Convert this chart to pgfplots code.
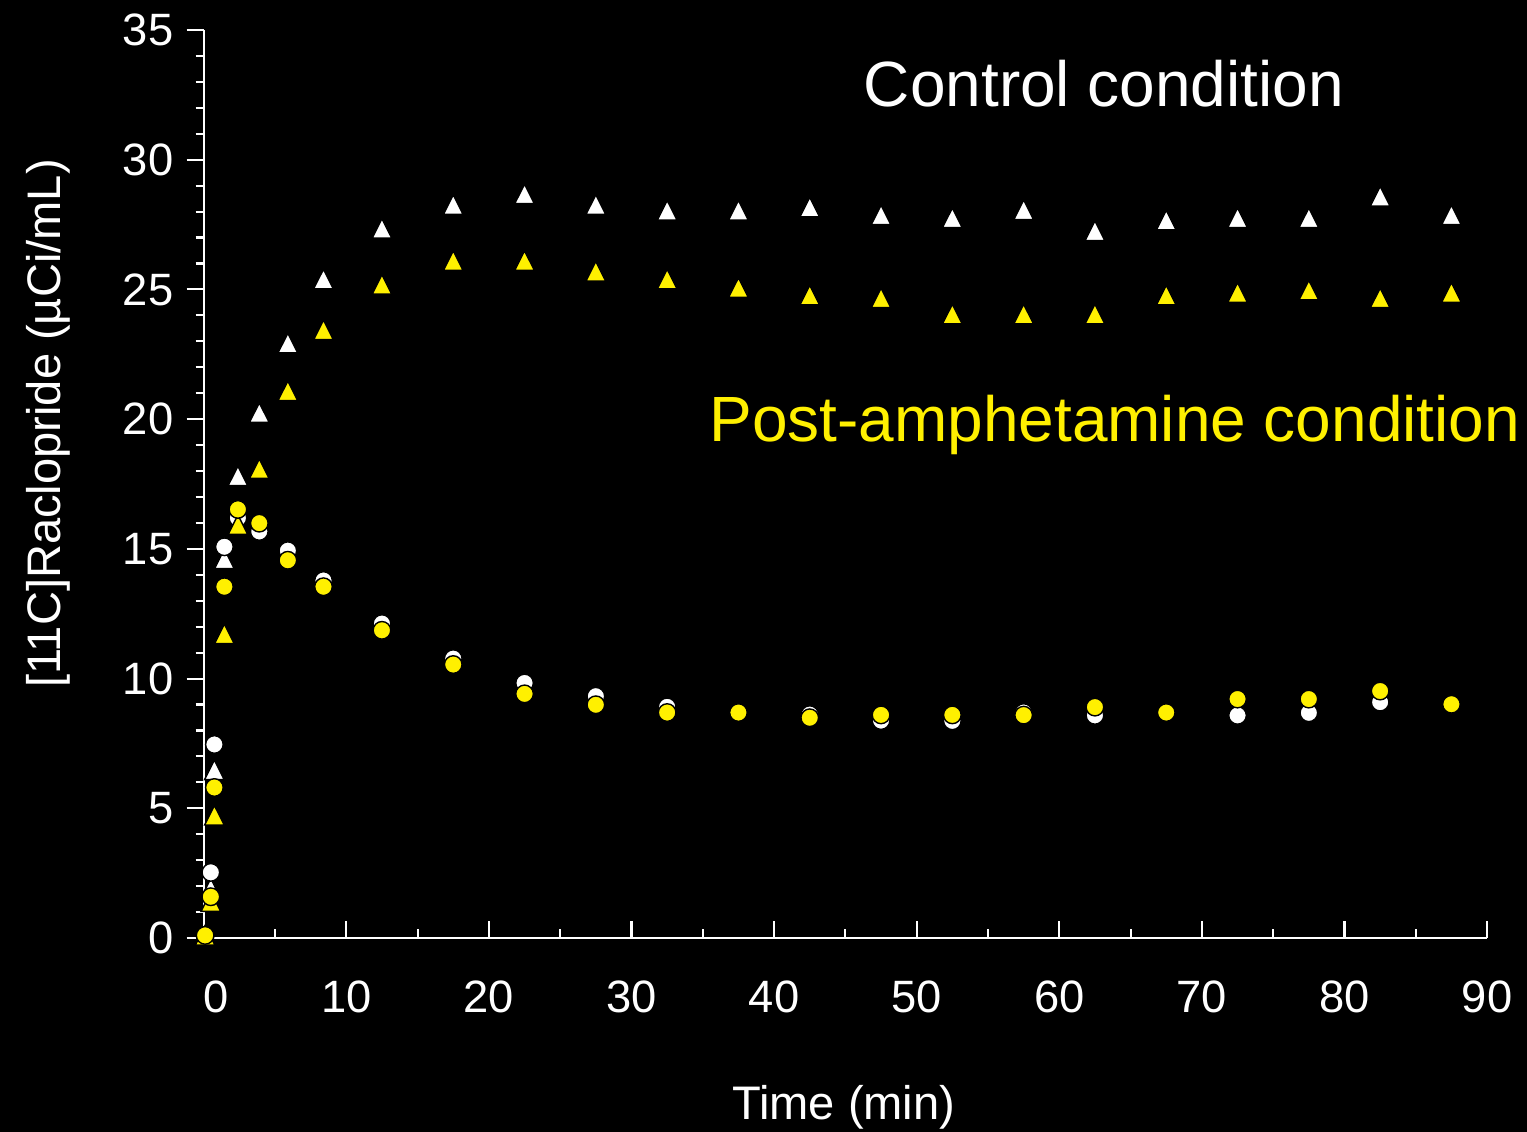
\documentclass[border=0pt]{standalone}
\usepackage{fontspec}
\setmainfont{Liberation Sans}
\usepackage{pgfplots}
\usepackage{pgfplotstable}
\pgfplotsset{compat=1.18}
\definecolor{ayellow}{RGB}{255,240,0}

\pgfplotstableread{
t     ctrlC  postC  ctrlT  postT
0.1   0.10   0.10   0.10   0.10
0.5   2.53   1.59   1.92   1.40
0.75  7.46   5.80   6.48   4.73
1.45  15.08  13.54  14.61  11.72
2.4   16.19  16.52  17.81  15.93
3.9   15.67  15.99  20.25  18.09
5.9   14.93  14.56  22.93  21.09
8.4   13.78  13.54  25.40  23.44
12.5  12.12  11.86  27.35  25.19
17.5  10.77  10.54  28.27  26.11
22.5  9.83   9.41   28.68  26.11
27.5  9.32   8.99   28.27  25.70
32.5  8.91   8.69   28.05  25.40
37.5  8.69   8.69   28.05  25.07
42.5  8.61   8.49   28.17  24.78
47.5  8.38   8.60   27.87  24.67
52.5  8.37   8.60   27.76  24.05
57.5  8.69   8.59   28.07  24.05
62.5  8.58   8.90   27.26  24.05
67.5  8.69   8.69   27.67  24.78
72.5  8.58   9.21   27.76  24.88
77.5  8.68   9.21   27.76  24.97
82.5  9.09   9.52   28.59  24.67
87.5  9.00   9.01   27.87  24.88
}\datatable

\begin{document}
\begin{tikzpicture}
\fill[black] (-20.37mm,-19.4mm) rectangle (132.33mm,93.8mm);
\pgfplotsset{common/.style={
  at={(0,0)}, anchor=south west, scale only axis,
  width=128.34mm, height=90.8mm,
  xmin=0, xmax=90, ymin=0, ymax=35, clip=false,
  axis line style={white, line width=0.6pt},
  every tick/.style={white, line width=0.6pt},
  tick label style={white, font=\fontsize{12.9}{15}\selectfont},
}}
\begin{axis}[common, axis x line*=bottom, hide y axis,
  xtick={0,10,...,90},
  xticklabels={\hphantom{0}0,10,20,30,40,50,60,70,80,90},
  minor x tick num=1, tick align=inside,
  major tick length=1.7mm, minor tick length=0.9mm,
  xticklabel style={anchor=base, yshift=-7.5mm, inner sep=0pt}]
\addplot[draw=none] coordinates {(0,0)};
\end{axis}
\begin{axis}[common, axis y line*=left, hide x axis,
  ytick={0,5,...,35},
  yticklabels={0,5,10,15,20,25,30,35},
  minor y tick num=4, tick align=outside,
  major tick length=1.7mm, minor tick length=0.8mm,
  yticklabel style={anchor=east, inner sep=0pt, xshift=-1.27mm}]
\addplot[only marks, mark=triangle*, mark size=1.3mm,
  mark options={draw=none, fill=white, yshift=-0.32mm, xscale=0.87}]
  table[x=t, y=ctrlT]{\datatable};
\addplot[only marks, mark=*, mark size=0.88mm,
  mark options={draw=none, fill=white}]
  table[x=t, y=ctrlC]{\datatable};
\addplot[only marks, mark=triangle*, mark size=1.3mm,
  mark options={draw=none, fill=ayellow, yshift=-0.32mm, xscale=0.87}]
  table[x=t, y=postT]{\datatable};
\addplot[only marks, mark=*, mark size=0.88mm,
  mark options={draw=none, fill=ayellow}]
  table[x=t, y=postC]{\datatable};
\end{axis}
\node[white, rotate=90, anchor=base, inner sep=0pt,
  font=\fontsize{13.4}{16}\selectfont] at (-14.37mm,51.45mm)
  {[11C]Raclopride (µCi/mL)};
\node[white, anchor=base, inner sep=0pt,
  font=\fontsize{13.4}{16}\selectfont] at (64.0mm,-18.2mm) {Time (min)};
\node[white, anchor=base west, inner sep=0pt,
  font=\fontsize{18.2}{22}\selectfont] at (65.95mm,83.1mm) {Control condition};
\node[ayellow, anchor=base west, inner sep=0pt,
  font=\fontsize{18.2}{22}\selectfont] at (50.5mm,49.6mm) {Post-amphetamine condition};
\pgfresetboundingbox
\path[use as bounding box] (-20.37mm,-19.4mm) rectangle (132.33mm,93.8mm);
\end{tikzpicture}
\end{document}
